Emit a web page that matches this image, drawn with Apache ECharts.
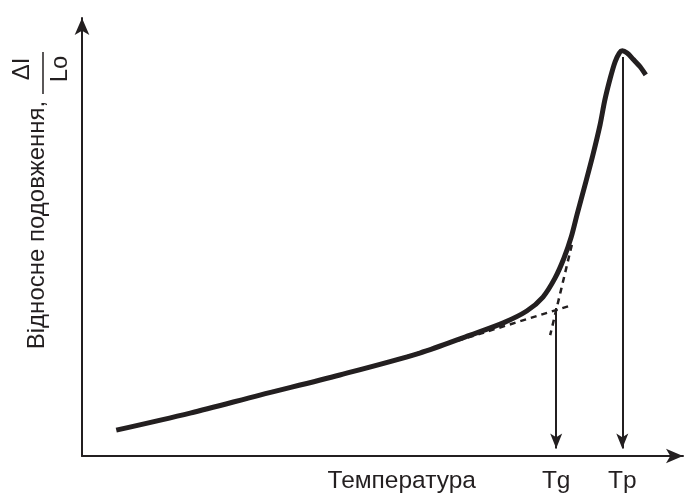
<!DOCTYPE html>
<html>
<head>
<meta charset="utf-8">
<script src="https://cdn.jsdelivr.net/npm/echarts@6/dist/echarts.min.js"></script>
<style>
html,body{margin:0;padding:0;background:#fff;}
#chart{width:690px;height:499px;}
</style>
</head>
<body>
<div id="chart"></div>
<script>
// Dilatometric curve (schematic units)
var curveX = [5.7, 18.0, 29.6, 42.9, 56.2, 64.6, 70.1, 74.0, 76.7, 78.7, 80.2, 81.4, 82.4, 83.7, 85.0, 86.2, 87.0, 87.9, 88.7, 89.4, 89.9, 90.7, 91.7, 92.9, 93.8];
var curveY = [5.9, 9.8, 13.9, 18.5, 23.5, 27.6, 30.4, 33.1, 36.3, 40.6, 45.2, 50.0, 55.3, 61.9, 68.7, 75.6, 81.3, 86.3, 90.0, 92.0, 92.5, 92.0, 90.6, 88.8, 87.0];

// Tangent lines (dashed)
var tangent1X = [53.7, 81.2];
var tangent1Y = [22.6, 34.3];
var tangent2X = [81.5, 77.9];
var tangent2Y = [48.2, 27.6];

// Characteristic temperatures (vertical arrows)
var tgValue = 78.9, tgTop = 33.8;
var tpValue = 89.9, tpTop = 91.1;
var arrowEnd = 1.7;

// X-axis labels
var tickValues = [53.2, tgValue, tpValue];
var tickLabels = ['Температура', 'Tg', 'Tp'];

var yLabel = 'Відносне подовження,';
var fracTop = 'ΔI';
var fracBottom = 'Lo';

function pairs(xs, ys){ return xs.map(function(x,i){ return [x, ys[i]]; }); }

var ink = '#231f20';
var font = '"Liberation Sans", Arial, sans-serif';

var chart = echarts.init(document.getElementById('chart'), null, {renderer:'canvas'});
chart.setOption({
  animation: false,
  backgroundColor: '#fff',
  grid: {left: 82, right: 7, top: 18, bottom: 43},
  xAxis: {
    type: 'value', min: 0, max: 100,
    splitLine: {show:false},
    axisTick: {show:false},
    axisLine: {show:true, symbol:['none','arrow'], symbolSize:[11,17], lineStyle:{color:ink, width:2}},
    axisLabel: {
      customValues: tickValues,
      formatter: function(v){ var i = tickValues.indexOf(v); return i >= 0 ? tickLabels[i] : ''; },
      color: ink, fontSize: 24.5, fontFamily: font, margin: 13
    }
  },
  yAxis: {
    type: 'value', min: 0, max: 100,
    splitLine: {show:false},
    axisTick: {show:false},
    axisLabel: {show:false},
    axisLine: {show:true, symbol:['none','arrow'], symbolSize:[11,17], lineStyle:{color:ink, width:2}}
  },
  series: [
    {
      type: 'line', data: pairs(tangent1X, tangent1Y), showSymbol:false, symbol:'none',
      lineStyle: {color: ink, width: 2.5, type: [6,5]}
    },
    {
      type: 'line', data: pairs(tangent2X, tangent2Y), showSymbol:false, symbol:'none',
      lineStyle: {color: ink, width: 2.5, type: [6,5]}
    },
    {
      type: 'line', data: pairs(curveX, curveY), showSymbol:false, symbol:'none',
      smooth: 0.3,
      lineStyle: {color: ink, width: 5},
      markLine: {
        silent: true,
        symbol: ['none','arrow'],
        symbolSize: [9, 15],
        label: {show:false},
        lineStyle: {color: ink, width: 2, type: 'solid'},
        data: [
          [{coord:[tgValue, tgTop]}, {coord:[tgValue, arrowEnd]}],
          [{coord:[tpValue, tpTop]}, {coord:[tpValue, arrowEnd]}]
        ]
      }
    }
  ],
  graphic: [
    {type:'text', x:37, y:225, rotation: Math.PI/2,
     style:{text:yLabel, font:'24px '+font, fill:ink, align:'center', verticalAlign:'middle'}},
    {type:'text', x:22, y:69, rotation: Math.PI/2,
     style:{text:fracTop, font:'24px '+font, fill:ink, align:'center', verticalAlign:'middle'}},
    {type:'text', x:60, y:69, rotation: Math.PI/2,
     style:{text:fracBottom, font:'24px '+font, fill:ink, align:'center', verticalAlign:'middle'}},
    {type:'line', shape:{x1:43, y1:52, x2:43, y2:94}, style:{stroke:ink, lineWidth:1.5}}
  ]
});
</script>
</body>
</html>
